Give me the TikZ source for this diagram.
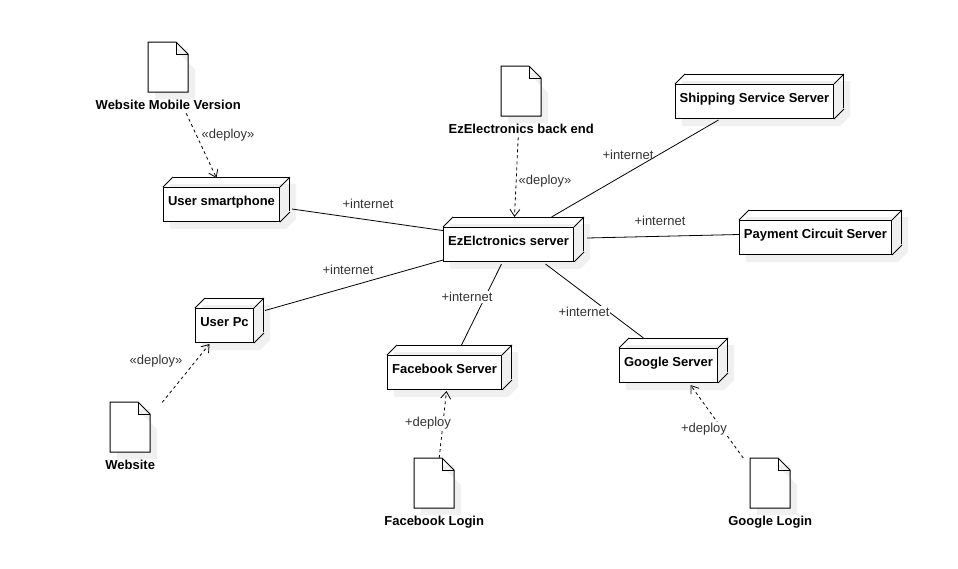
\documentclass[tikz,border=0pt]{standalone}
\usepackage{fontspec}
\setmainfont{Liberation Sans}
\usetikzlibrary{arrows.meta,positioning,calc}
\definecolor{umlshadow}{RGB}{240,240,240}
\definecolor{umllabel}{RGB}{51,51,51}
\tikzset{
  devicebox/.style={draw,line width=1pt,fill=white,inner sep=0pt,font=\bfseries\fontsize{13}{15}\selectfont,
    text height=12pt,text depth=10pt,
    append after command={
      (\tikzlastnode.north west) edge[line width=1pt] ++(10,-10)
      (\tikzlastnode.north east) edge[line width=1pt] ++(10,-10)
      (\tikzlastnode.south east) edge[line width=1pt] ++(10,-10)
    }},
  docbox/.style={inner sep=0pt,minimum width=40pt,minimum height=50pt},
  doclabel/.style={font=\bfseries\fontsize{13}{15}\selectfont,inner sep=0pt},
  linklabel/.style={font=\fontsize{13}{15}\selectfont,text=umllabel,inner sep=1pt},
  internet/.style={line width=0.8pt},
  deploy/.style={line width=0.8pt,dash pattern=on 3pt off 3pt,-{Straight Barb[length=7pt,width=10pt]}},
}
\begin{document}
\begin{tikzpicture}[x=1pt,y=-1pt]
\useasboundingbox (0,0) rectangle (958,568);
% Shadows
\foreach \x/\y/\w in {163/187/116, 443/227/130, 387/355/114, 675/84/158, 739/220/152, 195/308/58, 619/348/98} {
  \fill[umlshadow] (\x+7,\y-3) -- (\x+\w+17,\y-3) -- (\x+\w+17,\y+32) -- (\x+\w+7,\y+42) -- (\x+7,\y+42) -- cycle;
}
\foreach \x/\y in {148/42, 501/66, 110/402, 414/458, 750/458} {
  \fill[umlshadow] (\x+27,\y+7) -- (\x+47,\y+27) -- (\x+47,\y+57) -- (\x+7,\y+57) -- (\x+7,\y+50) -- (\x+40,\y+50) -- (\x+40,\y+7) -- cycle;
}
% Devices
\foreach \nm/\x/\y/\w/\txt in {smartphone/163/187/116/User smartphone, server/443/227/130/EzElctronics server,
    fbserver/387/355/114/Facebook Server, shipping/675/84/158/Shipping Service Server,
    payment/739/220/152/Payment Circuit Server, userpc/195/308/58/User Pc, googleserver/619/348/98/Google Server} {
  \node[devicebox,anchor=north west,minimum width=\w pt,minimum height=34pt] (\nm) at (\x,\y) {\txt};
  \draw[line width=1pt] (\x+10,\y-10) -- (\x+\w+10,\y-10) -- (\x+\w+10,\y+24);
}
% Documents
\foreach \nm/\x/\y in {mobiledoc/148/42, backenddoc/501/66, sitedoc/110/402, fbdoc/414/458, googledoc/750/458} {
  \node[docbox,anchor=north west] (\nm) at (\x,\y) {};
  \draw[line width=1pt] (\nm.north west) -- ++(28,0) -- ++(12,12) -- ++(0,38) -- ++(-40,0) -- cycle;
  \draw[line width=1pt] ($(\nm.north west)+(28,0)$) -- ++(0,12) -- ++(12,0);
}
\node[doclabel,below=7pt of mobiledoc] (mobilelabel) {Website Mobile Version};
\node[doclabel,below=7pt of backenddoc] (backendlabel) {EzElectronics back end};
\node[doclabel,below=7pt of sitedoc] (sitelabel) {Website};
\node[doclabel,below=7pt of fbdoc] (fblabel) {Facebook Login};
\node[doclabel,below=7pt of googledoc] (googlelabel) {Google Login};
% Internet links
\draw[internet] ([shift={(12,4.5)}]smartphone.east) -- (server.168);
\draw[internet] ([shift={(11,-15)}]userpc.east) -- ([shift={(0,-2)}]server.south west);
\draw[internet] ([shift={(-36,1)}]shipping.south) -- ([shift={(43,-10)}]server.north);
\draw[internet] ([shift={(0,-3)}]payment.west) -- ([shift={(13,-6.5)}]server.east);
\draw[internet] ([shift={(17,-10)}]fbserver.north) -- ([shift={(-7,2)}]server.south);
\draw[internet] ([shift={(-25,-10)}]googleserver.north) -- ([shift={(37,2)}]server.south);
% Deploy links
\draw[deploy] ([shift={(18,4)}]mobilelabel.south) -- ([shift={(-5,-9)}]smartphone.north);
\draw[deploy] ([shift={(-3,4)}]backendlabel.south) -- ([shift={(6,-10)}]server.north);
\draw[deploy] ([shift={(32,-50)}]sitedoc.south) -- ([shift={(-15,1)}]userpc.south);
\draw[deploy] ([shift={(5,0)}]fbdoc.north) -- ([shift={(2,1)}]fbserver.south);
\draw[deploy] ([shift={(-27,0)}]googledoc.north) -- ([shift={(22,2)}]googleserver.south);
% Link labels
\node[linklabel] (l1) at (228,135) {«deploy»};
\node[linklabel] (l2) at (545,181) {«deploy»};
\node[linklabel] (l3) at (156,361) {«deploy»};
\node[linklabel] (l4) at (368,204) {+internet};
\node[linklabel] (l5) at (628,155) {+internet};
\node[linklabel] (l6) at (660,221) {+internet};
\node[linklabel] (l7) at (348,270) {+internet};
\node[linklabel,fill=white] (l8) at (467,297) {+internet};
\node[linklabel,fill=white] (l9) at (584,312) {+internet};
\node[linklabel,fill=white] (l10) at (428,423) {+deploy};
\node[linklabel,fill=white] (l11) at (704,429) {+deploy};
\end{tikzpicture}
\end{document}
